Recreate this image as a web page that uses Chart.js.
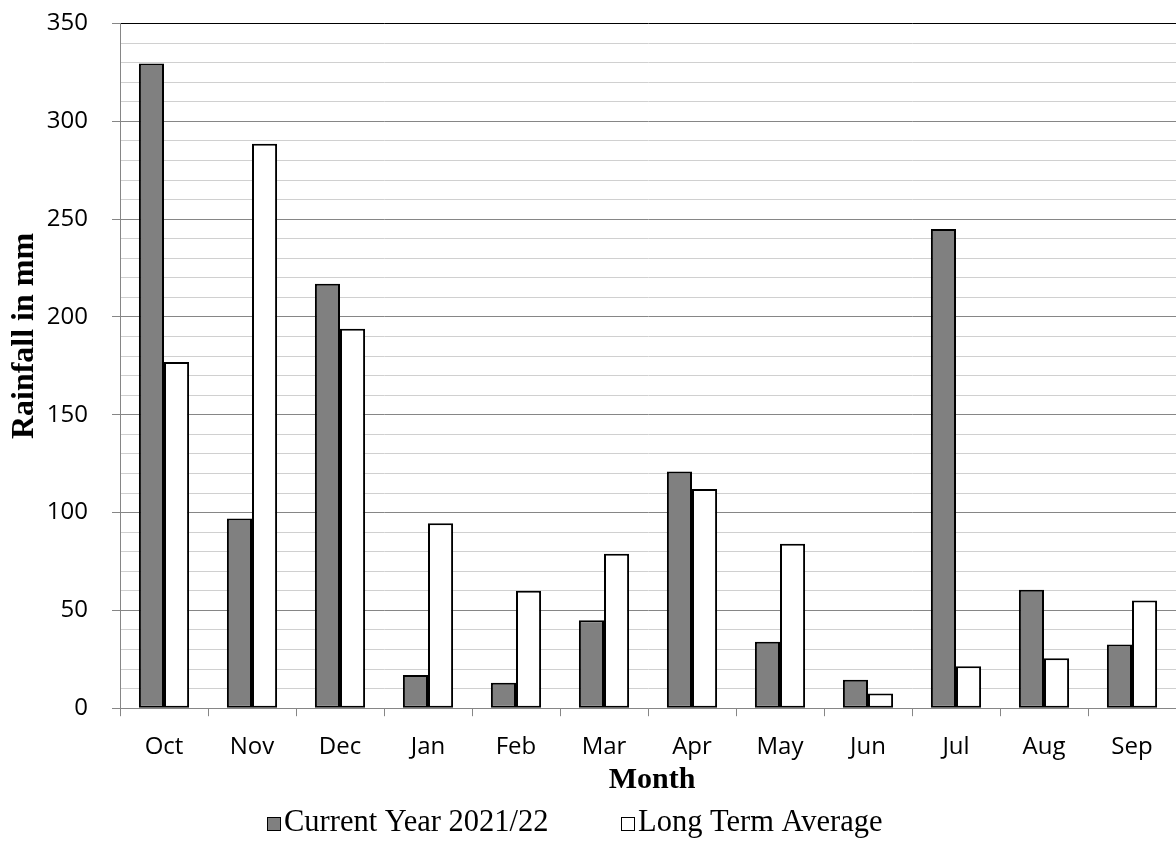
<!DOCTYPE html>
<html>
<head>
<meta charset="utf-8">
<title>Monthly rainfall</title>
<script src="https://cdn.jsdelivr.net/npm/chart.js@4"></script>
<style>
  html, body { margin: 0; padding: 0; background: #ffffff; }
  #wrap { width: 1176px; height: 843px; }
</style>
</head>
<body>
<div id="wrap"><canvas id="rain" width="1176" height="843"></canvas></div>
<script>
// Monthly rainfall (mm), hydrological year October to September
const months = ['Oct', 'Nov', 'Dec', 'Jan', 'Feb', 'Mar', 'Apr', 'May', 'Jun', 'Jul', 'Aug', 'Sep'];
const currentYear = [329.5, 97, 217, 17, 13, 45, 121, 34, 14.5, 245, 60.5, 32.5];
const longTermAverage = [177, 288.5, 194, 94.5, 60, 79, 112, 84, 7.5, 21.5, 25.5, 55];
const seriesNames = ['Current Year 2021/22', 'Long Term Average'];
const xTitle = 'Month';
const yTitle = 'Rainfall in mm';

const SANS = '"Open Sans", "DejaVu Sans", sans-serif';
const SERIF = '"Liberation Serif", "DejaVu Serif", serif';

// Axis titles and the bottom legend, drawn in the serif face
const titlesAndLegend = {
  id: 'titlesAndLegend',
  afterDraw(chart) {
    const ctx = chart.ctx;
    const area = chart.chartArea;
    ctx.save();
    ctx.fillStyle = '#000000';

    // x-axis title
    ctx.font = 'bold 30px ' + SERIF;
    ctx.textAlign = 'center';
    ctx.textBaseline = 'alphabetic';
    ctx.fillText(xTitle, (area.left + area.right) / 2 + 4, 788);

    // y-axis title, rotated
    ctx.save();
    ctx.translate(33, 336);
    ctx.rotate(-Math.PI / 2);
    ctx.font = 'bold 32px ' + SERIF;
    ctx.fillText(yTitle, 0, 0);
    ctx.restore();

    // legend
    ctx.font = '30.5px ' + SERIF;
    ctx.textAlign = 'left';
    const starts = [267, 621];
    const baseline = 831;
    chart.data.datasets.forEach((ds, i) => {
      const bx = starts[i];
      ctx.fillStyle = ds.backgroundColor;
      ctx.fillRect(bx + 0.5, baseline - 13.5, 13, 13);
      ctx.lineWidth = 1;
      ctx.strokeStyle = '#000000';
      ctx.strokeRect(bx + 0.5, baseline - 13.5, 13, 13);
      ctx.fillStyle = '#000000';
      ctx.fillText(ds.label, bx + 17, baseline);
    });
    ctx.restore();
  }
};

new Chart(document.getElementById('rain'), {
  type: 'bar',
  data: {
    labels: months,
    datasets: [
      {
        label: seriesNames[0],
        data: currentYear,
        backgroundColor: '#808080',
        borderColor: '#000000',
        borderWidth: 2,
        borderSkipped: false,
        categoryPercentage: 0.57,
        barPercentage: 1
      },
      {
        label: seriesNames[1],
        data: longTermAverage,
        backgroundColor: '#ffffff',
        borderColor: '#000000',
        borderWidth: 2,
        borderSkipped: false,
        categoryPercentage: 0.57,
        barPercentage: 1
      }
    ]
  },
  options: {
    responsive: false,
    animation: false,
    devicePixelRatio: 1,
    layout: { padding: { top: 23.5, bottom: 65, left: 0, right: 0 } },
    plugins: {
      legend: { display: false },
      tooltip: { enabled: false }
    },
    scales: {
      x: {
        grid: {
          offset: true,
          drawOnChartArea: false,
          drawTicks: true,
          tickLength: 8,
          color: '#868686'
        },
        border: { color: '#868686', width: 1 },
        ticks: {
          color: '#000000',
          padding: 16.5,
          font: { family: SANS, size: 24 }
        }
      },
      y: {
        min: 0,
        max: 350,
        afterFit(scale) {
          scale.width = 120;
          scale.paddingTop = 0;
          scale.paddingBottom = 0;
        },
        border: { color: '#868686', width: 1 },
        grid: {
          tickLength: 8,
          color(c) {
            const v = c.tick ? c.tick.value : 0;
            if (v === 350) return '#000000';
            return v % 50 === 0 ? '#868686' : '#d0d0d0';
          },
          tickColor(c) {
            const v = c.tick ? c.tick.value : 0;
            return v % 50 === 0 ? '#868686' : 'rgba(0,0,0,0)';
          }
        },
        ticks: {
          stepSize: 10,
          autoSkip: false,
          padding: 24,
          color: '#000000',
          font: { family: SANS, size: 24 },
          callback(v) { return v % 50 === 0 ? String(v) : ''; }
        }
      }
    }
  },
  plugins: [titlesAndLegend]
});
</script>
</body>
</html>
